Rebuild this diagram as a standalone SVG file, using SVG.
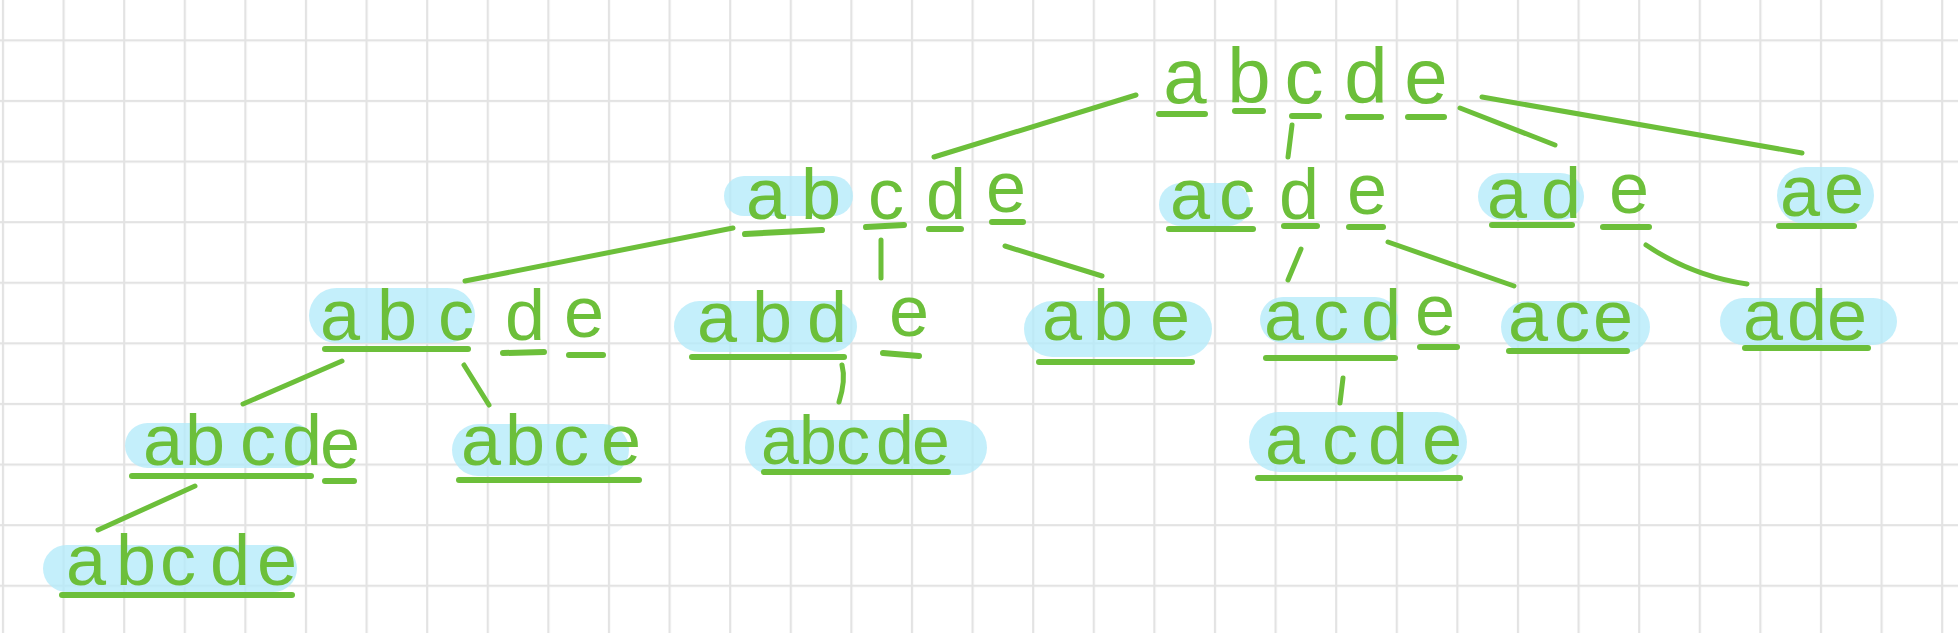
<svg xmlns="http://www.w3.org/2000/svg" width="1958" height="633" viewBox="0 0 1958 633">
<defs>
<pattern id="grid" patternUnits="userSpaceOnUse" x="1.9" y="39.3" width="60.6" height="60.6">
<rect x="0" y="0" width="2.2" height="60.6" fill="#e3e3e3"/>
<rect x="0" y="0" width="60.6" height="2.2" fill="#e3e3e3"/>
</pattern>
<style>
.t{font-family:"Liberation Sans","DejaVu Sans",sans-serif;font-size:72px;fill:#6cbf3a;text-anchor:middle}
.r{font-size:78px}
.s{font-size:68px}
.u{stroke:#6cbf3a;stroke-width:6;stroke-linecap:round;fill:none}
.c{stroke:#6cbf3a;stroke-width:5;stroke-linecap:round;fill:none}
.h{fill:#b4ebfa;opacity:0.78}
</style>
</defs>
<rect width="1958" height="633" fill="#ffffff"/>
<rect width="1958" height="633" fill="url(#grid)"/>

<g id="connectors">
<line class="c" x1="1136" y1="95" x2="934" y2="157"/>
<line class="c" x1="1292" y1="125" x2="1288" y2="157"/>
<line class="c" x1="1460" y1="108" x2="1555" y2="145"/>
<line class="c" x1="1482" y1="97" x2="1802" y2="153"/>
<line class="c" x1="733" y1="228" x2="465" y2="281"/>
<line class="c" x1="881" y1="240" x2="881" y2="278"/>
<line class="c" x1="1005" y1="246" x2="1102" y2="276"/>
<line class="c" x1="1301" y1="249" x2="1288" y2="280"/>
<line class="c" x1="1388" y1="242" x2="1514" y2="286"/>
<path class="c" d="M1646 245 Q1692 276 1747 284"/>
<line class="c" x1="342" y1="361" x2="243" y2="404"/>
<line class="c" x1="464" y1="365" x2="489" y2="405"/>
<path class="c" d="M842 365 Q846 380 839 402"/>
<line class="c" x1="1343" y1="378" x2="1340" y2="403"/>
<line class="c" x1="195" y1="486" x2="98" y2="530"/>
</g>

<g id="n-abcde-root">
<text class="t r" x="1185 1249 1304 1366 1426" y="103">abcde</text>
<line class="u" x1="1159" y1="114" x2="1205" y2="114"/>
<line class="u" x1="1235" y1="111" x2="1263" y2="111"/>
<line class="u" x1="1292" y1="116" x2="1319" y2="116"/>
<line class="u" x1="1348" y1="117" x2="1381" y2="117"/>
<line class="u" x1="1408" y1="117" x2="1444" y2="117"/>
</g>

<g id="n-ab-cde">
<rect class="h" x="724" y="176" width="129" height="40" rx="20"/>
<text class="t" x="766 821 886 946 1006" y="219 219 219 219 212">abcde</text>
<line class="u" x1="745" y1="234" x2="822" y2="230"/>
<line class="u" x1="866" y1="227" x2="904" y2="225"/>
<line class="u" x1="929" y1="229" x2="961" y2="229"/>
<line class="u" x1="992" y1="222" x2="1023" y2="222"/>
</g>

<g id="n-ac-de">
<rect class="h" x="1159" y="183" width="91" height="43" rx="21.5"/>
<text class="t" x="1190 1237 1299 1367" y="219 219 219 214">acde</text>
<line class="u" x1="1169" y1="229" x2="1253" y2="229"/>
<line class="u" x1="1284" y1="226" x2="1317" y2="226"/>
<line class="u" x1="1349" y1="227" x2="1383" y2="227"/>
</g>

<g id="n-ad-e">
<rect class="h" x="1478" y="173" width="106" height="47" rx="23.5"/>
<text class="t" x="1507 1561 1629" y="218 218 213">ade</text>
<line class="u" x1="1492" y1="225" x2="1572" y2="225"/>
<line class="u" x1="1603" y1="227" x2="1649" y2="227"/>
</g>

<g id="n-ae">
<rect class="h" x="1777" y="167" width="97" height="57" rx="28.5"/>
<text class="t" x="1800 1844" y="216 213">ae</text>
<line class="u" x1="1779" y1="226" x2="1854" y2="226"/>
</g>

<g id="n-abc-de">
<rect class="h" x="309" y="288" width="166" height="55" rx="27.5"/>
<text class="t" x="340 397 456 525 584" y="340 340 340 340 337">abcde</text>
<line class="u" x1="325" y1="349" x2="468" y2="349"/>
<line class="u" x1="503" y1="353" x2="544" y2="352"/>
<line class="u" x1="569" y1="355" x2="603" y2="355"/>
</g>

<g id="n-abd-e">
<rect class="h" x="674" y="301" width="183" height="51" rx="25.5"/>
<text class="t" x="717 772 827 909" y="342 342 342 336">abde</text>
<line class="u" x1="692" y1="357" x2="844" y2="357"/>
<line class="u" x1="883" y1="353" x2="919" y2="356"/>
</g>

<g id="n-abe">
<rect class="h" x="1024" y="301" width="188" height="56" rx="28"/>
<text class="t" x="1062 1113 1170" y="340">abe</text>
<line class="u" x1="1039" y1="362" x2="1192" y2="362"/>
</g>

<g id="n-acd-e">
<rect class="h" x="1260" y="297" width="138" height="46" rx="23"/>
<text class="t" x="1284 1331 1381 1435" y="340 340 340 335">acde</text>
<line class="u" x1="1266" y1="358" x2="1395" y2="358"/>
<line class="u" x1="1420" y1="347" x2="1457" y2="347"/>
</g>

<g id="n-ace">
<rect class="h" x="1501" y="301" width="149" height="52" rx="26"/>
<text class="t" x="1528 1572 1613" y="341">ace</text>
<line class="u" x1="1509" y1="351" x2="1627" y2="351"/>
</g>

<g id="n-ade">
<rect class="h" x="1720" y="298" width="177" height="47" rx="23.5"/>
<text class="t" x="1763 1807 1847" y="340">ade</text>
<line class="u" x1="1745" y1="348" x2="1868" y2="348"/>
</g>

<g id="n-abcd-e">
<rect class="h" x="125" y="423" width="189" height="45" rx="22.5"/>
<text class="t" x="163 205 258 302 340" y="465 465 465 465 468">abcde</text>
<line class="u" x1="132" y1="476" x2="311" y2="476"/>
<line class="u" x1="325" y1="481" x2="354" y2="481"/>
</g>

<g id="n-abce">
<rect class="h" x="452" y="424" width="177" height="52" rx="26"/>
<text class="t" x="481 525 571 621" y="465">abce</text>
<line class="u" x1="459" y1="480" x2="639" y2="480"/>
</g>

<g id="n-abcde-mid">
<rect class="h" x="745" y="420" width="242" height="55" rx="27.5"/>
<text class="t s" x="780 818 853 895 931" y="464">abcde</text>
<line class="u" x1="764" y1="472" x2="948" y2="472"/>
</g>

<g id="n-acde">
<rect class="h" x="1249" y="412" width="218" height="60" rx="30"/>
<text class="t" x="1285 1340 1388 1442" y="464">acde</text>
<line class="u" x1="1258" y1="478" x2="1460" y2="478"/>
</g>

<g id="n-abcde-leaf">
<rect class="h" x="43" y="545" width="254" height="47" rx="23.5"/>
<text class="t" x="86 136 178 230 277" y="585">abcde</text>
<line class="u" x1="62" y1="595" x2="292" y2="595"/>
</g>
</svg>
